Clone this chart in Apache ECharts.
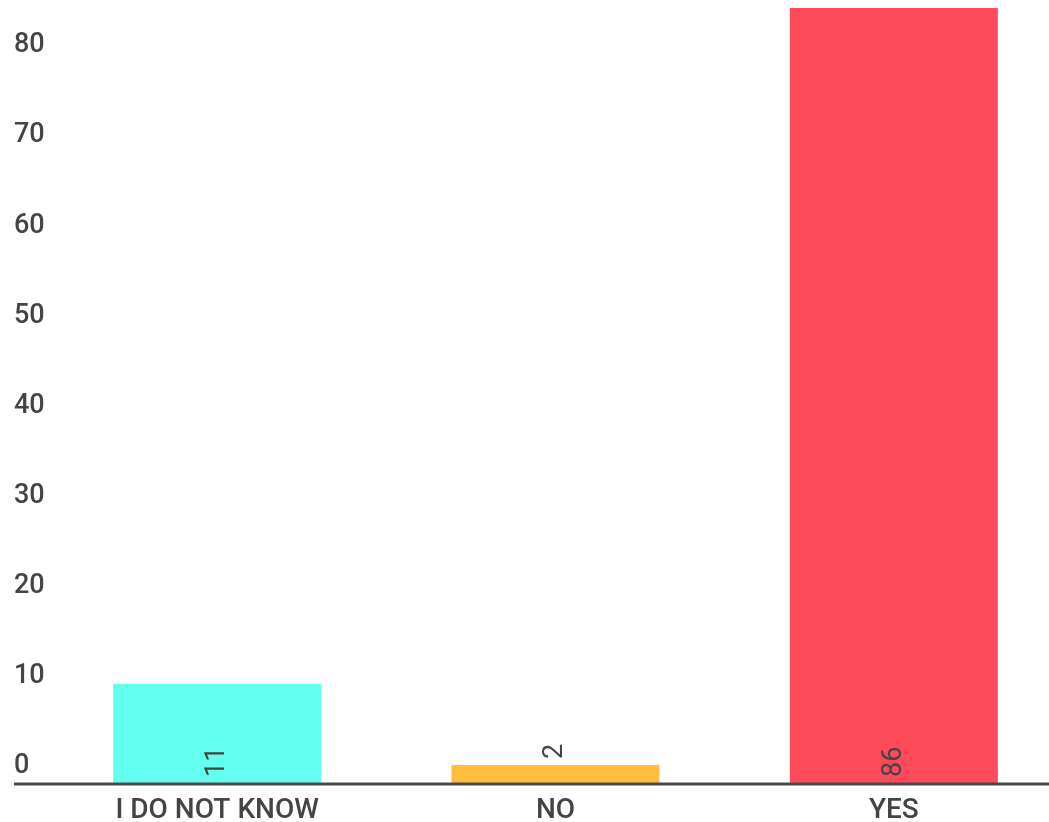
<!DOCTYPE html>
<html>
<head>
<meta charset="utf-8">
<script src="https://cdn.jsdelivr.net/npm/echarts@6/dist/echarts.min.js"></script>
<style>
html,body{margin:0;padding:0;background:#fff;}
#chart{width:1049px;height:822px;}
</style>
</head>
<body>
<div id="chart"></div>
<script>
const categories = ['I DO NOT KNOW', 'NO', 'YES'];
const values = [11, 2, 86];
const barColors = ['#62FFF0', '#FFBD3D', '#FF4A5A'];
const labelPositions = ['insideBottom', 'top', 'insideBottom'];

const textColor = '#444444';
const font = 'Roboto';

const chart = echarts.init(document.getElementById('chart'), null, {renderer: 'canvas'});
const option = {
  animation: false,
  backgroundColor: '#ffffff',
  grid: {left: 48, width: 1015, top: 8, bottom: 39, containLabel: false, outerBoundsMode: 'none'},
  xAxis: {
    type: 'category',
    data: categories,
    axisLine: {show: false},
    axisTick: {show: false},
    axisLabel: {
      color: textColor, fontFamily: font, fontSize: 28, fontWeight: 500,
      margin: 14
    }
  },
  yAxis: {
    type: 'value',
    min: 0, max: 86, interval: 10,
    splitLine: {show: false},
    axisLine: {show: false},
    axisTick: {show: false},
    axisLabel: {
      color: textColor, fontFamily: font, fontSize: 27, fontWeight: 500,
      align: 'left', margin: 34, verticalAlign: 'bottom',
      padding: [0, 0, 3, 0],
      showMaxLabel: false
    }
  },
  series: [{
    type: 'bar',
    barWidth: 208,
    data: values.map((v, i) => ({
      value: v,
      itemStyle: {color: barColors[i]},
      label: {position: labelPositions[i]}
    })),
    label: {
      show: true,
      rotate: 90,
      align: 'left',
      verticalAlign: 'middle',
      distance: 6,
      color: textColor, fontFamily: font, fontSize: 27, fontWeight: 400
    }
  }]
};
chart.setOption(option);
const y0 = chart.convertToPixel({yAxisIndex: 0}, 0);
chart.setOption({
  graphic: [{
    type: 'line',
    shape: {x1: 14, y1: y0 + 1, x2: 1049, y2: y0 + 1},
    style: {stroke: '#4a4a4a', lineWidth: 3},
    z: 10
  }]
});
</script>
</body>
</html>
